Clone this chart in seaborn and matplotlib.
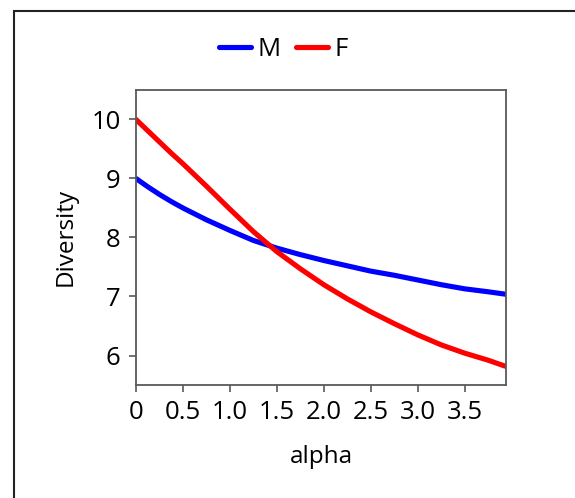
import pandas as pd
import matplotlib.pyplot as plt
import seaborn as sns
from matplotlib.patches import Rectangle

# values
alpha = [0, 0.125, 0.25, 0.375, 0.5, 0.75, 1.0, 1.25, 1.5, 1.75, 2.0, 2.25, 2.5, 2.75, 3.0, 3.25, 3.5, 3.75, 3.93]
div_m = [9.00, 8.86, 8.73, 8.61, 8.50, 8.30, 8.12, 7.95, 7.82, 7.71, 7.61, 7.52, 7.43, 7.36, 7.28, 7.20, 7.13, 7.08, 7.04]
div_f = [10.00, 9.81, 9.62, 9.43, 9.25, 8.87, 8.48, 8.10, 7.76, 7.47, 7.20, 6.96, 6.74, 6.54, 6.35, 6.18, 6.04, 5.92, 5.82]

x_ticks = [0, 0.5, 1.0, 1.5, 2.0, 2.5, 3.0, 3.5]
x_labels = ['0', '0.5', '1.0', '1.5', '2.0', '2.5', '3.0', '3.5']
y_ticks = [6, 7, 8, 9, 10]

df = pd.DataFrame({
    'alpha': alpha * 2,
    'Diversity': div_m + div_f,
    'group': ['M'] * len(alpha) + ['F'] * len(alpha),
})

sns.set_style('ticks')
plt.rcParams['font.family'] = ['Open Sans', 'DejaVu Sans']
plt.rcParams['text.color'] = 'black'
plt.rcParams['axes.labelcolor'] = 'black'

fig = plt.figure(figsize=(5.75, 4.98), dpi=100)
ax = fig.add_axes([0.2365, 0.2269, 0.6435, 0.5924])

sns.lineplot(data=df, x='alpha', y='Diversity', hue='group',
             palette={'M': 'blue', 'F': 'red'}, linewidth=3.7, ax=ax,
             solid_joinstyle='round')

ax.set_xlim(0, 3.94)
ax.set_ylim(5.5, 10.5)
ax.set_xticks(x_ticks)
ax.set_xticklabels(x_labels)
ax.set_yticks(y_ticks)
ax.tick_params(labelsize=18.5, length=5, width=1.2, color='#595959',
               labelcolor='black', pad=6)
for s in ax.spines.values():
    s.set_color('#595959')
    s.set_linewidth(1.3)
ax.set_xlabel('alpha', fontsize=17.5, labelpad=14)
ax.set_ylabel('Diversity', fontsize=17.5, labelpad=10)

ax.legend(loc='center', bbox_to_anchor=(0.493, 0.9), bbox_transform=fig.transFigure,
          ncol=2, frameon=False, fontsize=18.5, handlelength=1.25,
          handletextpad=0.25, columnspacing=0.6)

# outer frame (only left/top edges visible in the reference)
fig.patches.append(Rectangle((14 / 575, -0.1), 1.2, 1 - 11 / 498 + 0.1,
                             transform=fig.transFigure, fill=False,
                             edgecolor='#222222', linewidth=1.5))

fig.savefig('out.png', dpi=100)
